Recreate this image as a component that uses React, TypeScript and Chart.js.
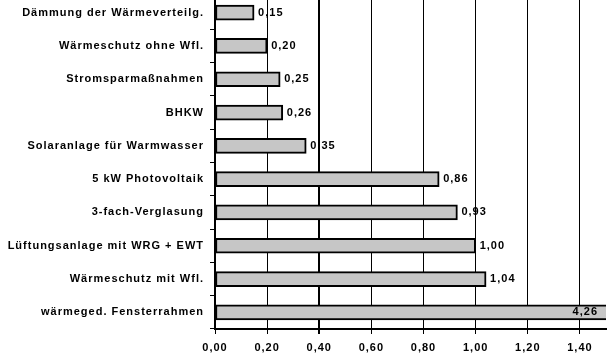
import React, { useEffect, useRef } from "react";
import { Chart, registerables } from "chart.js";

Chart.register(...registerables);

const categories = [
  "Dämmung der Wärmeverteilg.",
  "Wärmeschutz ohne Wfl.",
  "Stromsparmaßnahmen",
  "BHKW",
  "Solaranlage für Warmwasser",
  "5 kW Photovoltaik",
  "3-fach-Verglasung",
  "Lüftungsanlage mit WRG + EWT",
  "Wärmeschutz mit Wfl.",
  "wärmeged. Fensterrahmen",
];
const values = [0.15, 0.2, 0.25, 0.26, 0.35, 0.86, 0.93, 1.0, 1.04, 4.26];
const xMin = 0;
const xMax = 1.5;
const xStep = 0.2;

const fmt = (v: number) => v.toFixed(2).replace(".", ",");
const FONT = "'Liberation Sans', Arial, sans-serif";

const labelPlugin = {
  id: "barLabels",
  beforeDraw(chart: any) {
    (chart.ctx as any).letterSpacing = "1px";
    drawLabels(chart, false);
  },
  afterDatasetsDraw(chart: any) {
    drawLabels(chart, true);
  },
};

function drawLabels(chart: any, inside: boolean) {
  const ctx = chart.ctx;
  const area = chart.chartArea;
  const meta = chart.getDatasetMeta(0);
  ctx.save();
  (ctx as any).letterSpacing = "1px";
  ctx.font = `bold 11px ${FONT}`;
  ctx.fillStyle = "#000";
  ctx.textBaseline = "middle";
  meta.data.forEach((el: any, i: number) => {
    const txt = fmt(values[i]);
    const overflow = el.x > area.right - 30;
    if (overflow !== inside) return;
    if (overflow) {
      ctx.textAlign = "right";
      ctx.fillText(txt, area.right - 8, el.y);
    } else {
      ctx.textAlign = "left";
      ctx.fillText(txt, el.x + 4, el.y);
    }
  });
  ctx.restore();
}

export default function App() {
  const ref = useRef<HTMLCanvasElement>(null);
  useEffect(() => {
    if (!ref.current) return;
    const chart = new Chart(ref.current, {
      type: "bar",
      data: {
        labels: categories,
        datasets: [
          {
            data: values,
            backgroundColor: "#c6c6c6",
            borderColor: "#000",
            borderWidth: 2,
            borderSkipped: false,
            barThickness: 15,
          },
        ],
      },
      options: {
        indexAxis: "y",
        animation: false,
        responsive: false,
        devicePixelRatio: 1,
        layout: { padding: { left: 0, right: 10, top: 0, bottom: 0 } },
        plugins: {
          legend: { display: false },
          tooltip: { enabled: false },
          title: { display: false },
        },
        scales: {
          x: {
            type: "linear",
            position: "bottom",
            min: xMin,
            max: xMax,
            afterFit: (s: any) => {
              s.height = 28;
            },
            ticks: {
              stepSize: xStep,
              includeBounds: false,
              callback: (v: any) => fmt(Number(v)),
              font: { family: FONT, size: 11, weight: "bold" },
              color: "#000",
              padding: 7,
              maxRotation: 0,
            },
            grid: {
              color: "#000",
              lineWidth: (c: any) => (c.index === 2 ? 2 : 1),
              tickLength: 5,
            },
            border: { color: "#000", width: 2 },
          },
          y: {
            type: "category",
            afterFit: (s: any) => {
              s.width = 215;
              s.paddingTop = 0;
              s.paddingBottom = 0;
            },
            ticks: {
              font: { family: FONT, size: 11, weight: "bold" },
              color: "#000",
              padding: 6,
            },
            grid: {
              offset: true,
              drawOnChartArea: false,
              color: "#000",
              lineWidth: 1,
              tickLength: 5,
            },
            border: { color: "#000", width: 2 },
          },
        },
      },
      plugins: [labelPlugin],
    } as any);
    return () => chart.destroy();
  }, []);
  return (
    <div style={{ position: "absolute", left: 0, top: -4, width: 616, height: 361 }}>
      <canvas ref={ref} width={616} height={361} style={{ display: "block" }} />
    </div>
  );
}
